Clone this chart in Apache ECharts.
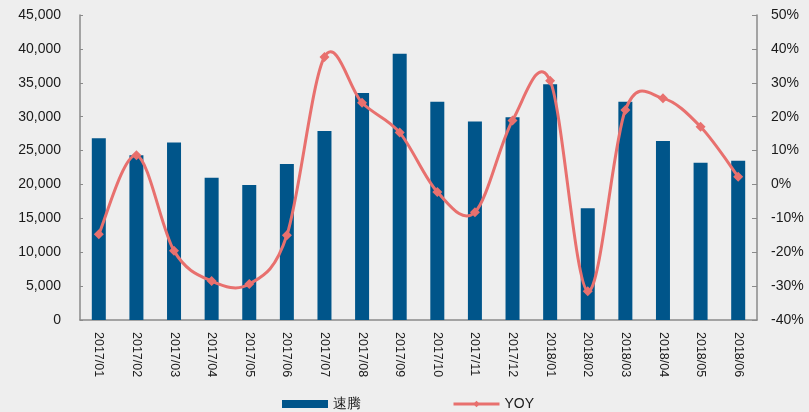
<!DOCTYPE html>
<html>
<head>
<meta charset="utf-8">
<script src="https://cdn.jsdelivr.net/npm/echarts@6/dist/echarts.min.js"></script>
<style>
  html, body { margin: 0; padding: 0; background: #eeeeee; }
  #chart { width: 809px; height: 412px; }
</style>
</head>
<body>
<div id="chart"></div>
<script>
// Monthly sales volume (bars) and year-over-year growth (line)
const months = ['2017/01','2017/02','2017/03','2017/04','2017/05','2017/06','2017/07','2017/08','2017/09',
                '2017/10','2017/11','2017/12','2018/01','2018/02','2018/03','2018/04','2018/05','2018/06'];
const salesVolume = [26800, 24300, 26200, 21000, 19900, 23000, 27900, 33500, 39300,
                     32200, 29300, 29900, 34800, 16500, 32200, 26400, 23200, 23500];
const yoyPercent = [-14.7, 8.6, -19.6, -28.5, -29.4, -15.0, 37.6, 24.1, 15.3,
                    -2.2, -8.2, 18.9, 30.6, -31.5, 22.0, 25.4, 17.0, 2.3];

const axisColor = '#8a8a8a';
const textColor = '#1a1a1a';
const lineColor = '#e8706e';
const fontFamily = '"Liberation Sans", Arial, sans-serif';

// Cardinal (Catmull-Rom) spline segment between point i and i+1,
// with positions taken from the value axis on the right.
function renderYoySegment(params, api) {
  const i = params.dataIndex;
  if (i >= yoyPercent.length - 1) return null;
  const idx = k => Math.max(0, Math.min(yoyPercent.length - 1, k));
  const p0 = api.coord([idx(i - 1), yoyPercent[idx(i - 1)]]);
  const p1 = api.coord([i, yoyPercent[i]]);
  const p2 = api.coord([i + 1, yoyPercent[i + 1]]);
  const p3 = api.coord([idx(i + 2), yoyPercent[idx(i + 2)]]);
  const t = 1 / 6;
  const c1 = [p1[0] + (p2[0] - p0[0]) * t, p1[1] + (p2[1] - p0[1]) * t];
  const c2 = [p2[0] - (p3[0] - p1[0]) * t, p2[1] - (p3[1] - p1[1]) * t];
  return {
    type: 'bezierCurve',
    shape: { x1: p1[0], y1: p1[1], x2: p2[0], y2: p2[1],
             cpx1: c1[0], cpy1: c1[1], cpx2: c2[0], cpy2: c2[1] },
    style: { stroke: lineColor, lineWidth: 3, fill: null, lineCap: 'round' }
  };
}

const chart = echarts.init(document.getElementById('chart'));
chart.setOption({
  backgroundColor: '#eeeeee',
  animation: false,
  textStyle: { fontFamily: fontFamily },
  grid: { left: 80, right: 52, top: 15, bottom: 92 },
  legend: {
    left: 277, top: 392,
    itemGap: 91,
    itemWidth: 46, itemHeight: 8,
    textStyle: { fontSize: 14, color: textColor, fontFamily: fontFamily },
    data: [
      { name: '速腾', icon: 'rect' },
      { name: 'YOY', lineStyle: { color: lineColor, width: 3, opacity: 1 } }
    ]
  },
  xAxis: {
    type: 'category',
    data: months,
    axisLine: { lineStyle: { color: axisColor, width: 1.5 } },
    axisTick: { inside: true, length: 4, lineStyle: { color: axisColor } },
    axisLabel: { rotate: -90, color: textColor, fontSize: 12.5, margin: 12 }
  },
  yAxis: [
    {
      type: 'value',
      min: 0, max: 45000, interval: 5000,
      axisLine: { show: true, lineStyle: { color: axisColor, width: 1.5 } },
      axisTick: { show: true, inside: true, length: 3, lineStyle: { color: axisColor } },
      splitLine: { show: false },
      axisLabel: {
        color: textColor, fontSize: 14, margin: 19,
        formatter: v => v.toLocaleString('en-US')
      }
    },
    {
      type: 'value',
      min: -40, max: 50, interval: 10,
      axisLine: { show: true, lineStyle: { color: axisColor, width: 1.5 } },
      axisTick: { show: true, inside: true, length: 5, lineStyle: { color: axisColor } },
      splitLine: { show: false },
      axisLabel: { color: textColor, fontSize: 14, margin: 14, formatter: '{value}%' }
    }
  ],
  series: [
    {
      name: '速腾',
      type: 'bar',
      data: salesVolume,
      barWidth: 14,
      itemStyle: { color: '#00558a' }
    },
    {
      name: 'YOY curve',
      type: 'custom',
      yAxisIndex: 1,
      data: yoyPercent.map((v, i) => [i, v]),
      renderItem: renderYoySegment,
      clip: false,
      z: 3,
      silent: true
    },
    {
      name: 'YOY',
      type: 'line',
      yAxisIndex: 1,
      data: yoyPercent,
      symbol: 'diamond',
      symbolSize: 10,
      lineStyle: { opacity: 0 },
      itemStyle: { color: lineColor },
      z: 4
    }
  ]
});
</script>
</body>
</html>
